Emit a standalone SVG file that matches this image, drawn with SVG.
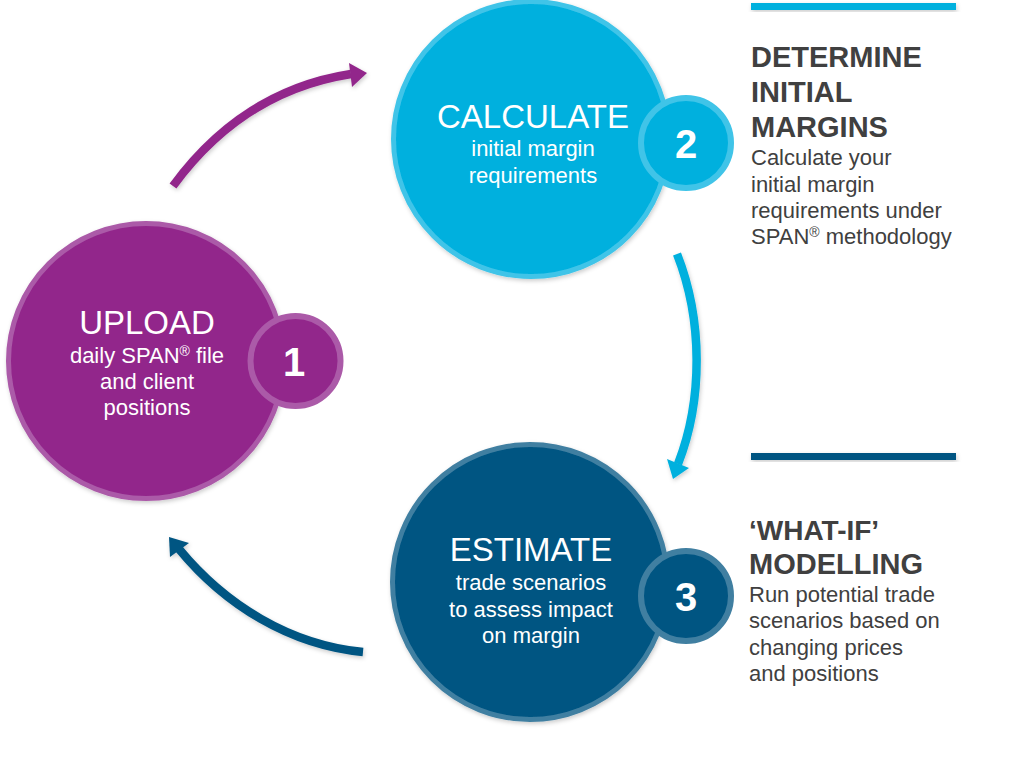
<svg xmlns="http://www.w3.org/2000/svg" width="1024" height="760" viewBox="0 0 1024 760">
<style>
text{font-family:"Liberation Sans",Arial,sans-serif}
.t{font-size:33px;fill:#fff;text-anchor:middle}
.s{font-size:22px;fill:#fff;text-anchor:middle}
.n{font-size:40px;font-weight:700;fill:#fff;text-anchor:middle}
.h{font-size:29px;font-weight:700;fill:#404040}
.b{font-size:22px;fill:#404040}
.sup{font-size:14px}
.c{fill:none;stroke-width:8.5}
.big{stroke-width:5}
.bad{stroke-width:6}
.p{fill:#92278b;stroke:#ab5aa8}
.l{fill:#00b0de;stroke:#40c4e8}
.d{fill:#005582;stroke:#407fa1}
</style>
<defs>
<filter id="sh" x="-20%" y="-20%" width="140%" height="140%"><feDropShadow dx="1" dy="2" stdDeviation="2" flood-color="#000" flood-opacity="0.2"/></filter>
</defs>
<rect width="1024" height="760" fill="#fff"/>
<g id="connectors" filter="url(#sh)">
<path class="c" stroke="#92278b" d="M173 186C220 122 280 85 351 74"/>
<polygon fill="#92278b" points="349,63 367,73 352,87"/>
<path class="c" stroke="#00b0de" d="M677 254C703 320 703 400 678 464"/>
<polygon fill="#00b0de" points="667,459 689,468 673,479"/>
<path class="c" stroke="#005582" d="M363 652C290 645 225 605 179 549"/>
<polygon fill="#005582" points="169,537 189,543 170,557"/>
</g>
<g id="node-1">
<circle class="p big" cx="146" cy="361" r="137.5" filter="url(#sh)"/>
<circle class="p bad" cx="295.500" cy="361" r="45"/>
<text class="t" x="147" y="334">UPLOAD</text>
<text class="s" x="147" y="363">daily SPAN<tspan class="sup" dy="-7">®</tspan><tspan dy="7"> file</tspan></text>
<text class="s" x="147" y="389">and client</text>
<text class="s" x="147" y="415">positions</text>
<text class="n" x="294" y="376">1</text>
</g>
<g id="node-2">
<circle class="l big" cx="531" cy="139" r="137.5" filter="url(#sh)"/>
<circle class="l bad" cx="686" cy="143" r="45"/>
<text class="t" x="533" y="128">CALCULATE</text>
<text class="s" x="533" y="156">initial margin</text>
<text class="s" x="533" y="183">requirements</text>
<text class="n" x="686" y="158">2</text>
</g>
<g id="node-3">
<circle class="d big" cx="530" cy="582" r="137.5" filter="url(#sh)"/>
<circle class="d bad" cx="686" cy="596" r="45"/>
<text class="t" x="531" y="561">ESTIMATE</text>
<text class="s" x="531" y="590">trade scenarios</text>
<text class="s" x="531" y="617">to assess impact</text>
<text class="s" x="531" y="643">on margin</text>
<text class="n" x="686" y="611">3</text>
</g>
<g id="panel-2">
<rect x="751" y="3" width="205" height="7" fill="#00b0de" filter="url(#sh)"/>
<text class="h" x="751" y="67">DETERMINE</text>
<text class="h" x="751" y="102">INITIAL</text>
<text class="h" x="751" y="137">MARGINS</text>
<text class="b" x="751" y="165">Calculate your</text>
<text class="b" x="751" y="192">initial margin</text>
<text class="b" x="751" y="218">requirements under</text>
<text class="b" x="751" y="244">SPAN<tspan class="sup" dy="-7">®</tspan><tspan dy="7"> methodology</tspan></text>
</g>
<g id="panel-3">
<rect x="751" y="453" width="205" height="7" fill="#005582" filter="url(#sh)"/>
<text class="h" x="749" y="540" style="font-size:28px">‘WHAT-IF’</text>
<text class="h" x="749" y="574">MODELLING</text>
<text class="b" x="749" y="602">Run potential trade</text>
<text class="b" x="749" y="628">scenarios based on</text>
<text class="b" x="749" y="655">changing prices</text>
<text class="b" x="749" y="681">and positions</text>
</g>
</svg>
